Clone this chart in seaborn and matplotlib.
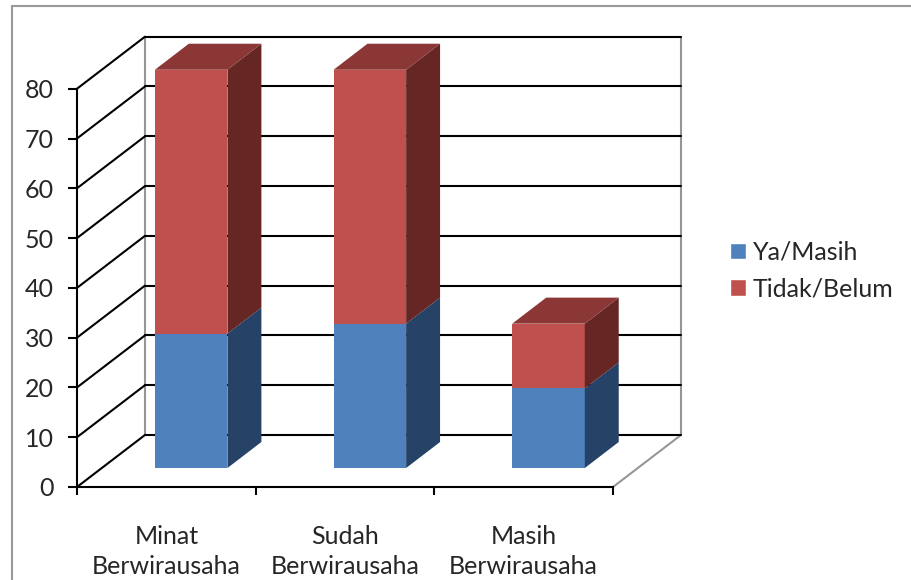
import matplotlib
matplotlib.use("Agg")
import matplotlib.pyplot as plt
from matplotlib.patches import Polygon, Rectangle, Patch
import pandas as pd
import seaborn as sns

# data
categories = ["Minat\nBerwirausaha", "Sudah\nBerwirausaha", "Masih\nBerwirausaha"]
ya_masih = [27, 29, 16]
tidak_belum = [53, 51, 13]
series_names = ["Ya/Masih", "Tidak/Belum"]
y_ticks = [0, 10, 20, 30, 40, 50, 60, 70, 80]

front_colors = {"Ya/Masih": "#4F81BD", "Tidak/Belum": "#C0504D"}
side_colors = {"Ya/Masih": "#264367", "Tidak/Belum": "#652624"}
top_color = "#8A3735"
wall_gray = "#969696"

# fake 3d: depth of the box, where the bars sit in it, and bar depth
DEPTH_X, DEPTH_Y = 0.3805, 10.45
SHIFT_X, SHIFT_Y = 0.139, 3.81
BAR_DX, BAR_DY = 0.19, 5.23
BAR_W = 0.406

sns.set_style("ticks")
plt.rcParams["font.family"] = ["Lato", "DejaVu Sans"]
FS = 18

df = pd.DataFrame({"category": categories, "ya": ya_masih, "tidak": tidak_belum})
df["total"] = df["ya"] + df["tidak"]

fig = plt.figure(figsize=(9.12, 5.8), dpi=100)
ax = fig.add_axes([77 / 912, (580 - 487) / 580, (681 - 77) / 912, (487 - 36.7) / 580])

# front faces, stacked the usual seaborn way
sns.barplot(data=df, x="category", y="total", color=front_colors["Tidak/Belum"],
            width=BAR_W, saturation=1, linewidth=0, ax=ax, zorder=3)
sns.barplot(data=df, x="category", y="ya", color=front_colors["Ya/Masih"],
            width=BAR_W, saturation=1, linewidth=0, ax=ax, zorder=3)

# side and top faces
for i, row in df.iterrows():
    xl = i - BAR_W / 2
    xr = i + BAR_W / 2
    segs = [(0, row["ya"], side_colors["Ya/Masih"]),
            (row["ya"], row["total"], side_colors["Tidak/Belum"])]
    for b, t, c in segs:
        ax.add_patch(Polygon([(xr, b), (xr + BAR_DX, b + BAR_DY), (xr + BAR_DX, t + BAR_DY), (xr, t)],
                             closed=True, facecolor=c, edgecolor="none", zorder=3))
    T = row["total"]
    ax.add_patch(Polygon([(xl, T), (xr, T), (xr + BAR_DX, T + BAR_DY), (xl + BAR_DX, T + BAR_DY)],
                         closed=True, facecolor=top_color, edgecolor="none", zorder=3))

# walls and gridlines
x_front_l = -0.5 - SHIFT_X
x_front_r = len(categories) - 0.5 - SHIFT_X
for v in y_ticks:
    yf = v - SHIFT_Y
    ax.plot([x_front_l, x_front_l + DEPTH_X], [yf, yf + DEPTH_Y], color="black", lw=1.5, zorder=1, clip_on=False)
    ax.plot([x_front_l + DEPTH_X, x_front_r + DEPTH_X], [yf + DEPTH_Y, yf + DEPTH_Y],
            color="black", lw=1.5, zorder=1, clip_on=False)
y0 = -SHIFT_Y + DEPTH_Y
y80 = y_ticks[-1] - SHIFT_Y + DEPTH_Y
ax.plot([x_front_l + DEPTH_X] * 2, [y0, y80], color=wall_gray, lw=1.5, zorder=0.9, clip_on=False)
ax.plot([x_front_r + DEPTH_X] * 2, [y0, y80], color=wall_gray, lw=1.5, zorder=0.9, clip_on=False)
ax.plot([x_front_r, x_front_r + DEPTH_X], [-SHIFT_Y, y0], color=wall_gray, lw=1.5, zorder=0.9, clip_on=False)

ax.set_xlim(x_front_l, x_front_r + DEPTH_X)
ax.set_ylim(-SHIFT_Y, y80)

ax.set_yticks([v - SHIFT_Y for v in y_ticks], labels=[str(v) for v in y_ticks])
ax.set_xticks([i - SHIFT_X for i in range(len(categories))], labels=categories)
ax.set_xticks([x_front_l + k for k in range(len(categories) + 1)], minor=True)
ax.tick_params(axis="y", length=6.5, width=1.5, color="black", pad=10, labelsize=FS, left=True)
ax.tick_params(axis="x", which="major", length=0, pad=27, labelsize=FS)
ax.tick_params(axis="x", which="minor", length=6, width=1.5, color="black", bottom=True)
for lbl in ax.get_xticklabels():
    lbl.set_linespacing(1.4)
ax.set_xlabel("")
ax.set_ylabel("")

for s in ["top", "right"]:
    ax.spines[s].set_visible(False)
for s in ["left", "bottom"]:
    ax.spines[s].set_linewidth(1.5)
    ax.spines[s].set_color("black")
ax.spines["left"].set_bounds(-SHIFT_Y, y_ticks[-1] - SHIFT_Y)
ax.spines["bottom"].set_bounds(x_front_l, x_front_r)

handles = [Patch(facecolor=front_colors[s], label=s) for s in series_names]
fig.legend(handles=handles, loc="center left", bbox_to_anchor=(730 / 912, (580 - 270.5) / 580),
           frameon=False, fontsize=FS, handlelength=0.65, handleheight=0.65,
           handletextpad=0.25, labelspacing=0.55, borderpad=0, borderaxespad=0)

# chart area border (only top and left show in the crop)
fig.add_artist(Rectangle((12 / 912, -0.05), 1.0, (580 - 6) / 580 + 0.05, transform=fig.transFigure,
                         fill=False, edgecolor="#9a9a9a", lw=1.5))

fig.savefig("out.png", dpi=100)
